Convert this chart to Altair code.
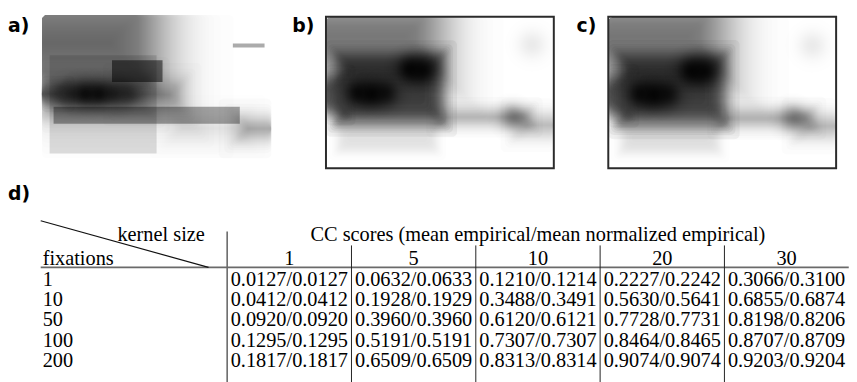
import math
from statistics import NormalDist
import altair as alt
import numpy as np
import pandas as pd

# ------------------------------------------------------------------ data (table d)
kernel_sizes = [1, 5, 10, 20, 30]
fixation_counts = [1, 10, 50, 100, 200]
cc_mean_empirical = [
    [0.0127, 0.0632, 0.1210, 0.2227, 0.3066],
    [0.0412, 0.1928, 0.3488, 0.5630, 0.6855],
    [0.0920, 0.3960, 0.6120, 0.7728, 0.8198],
    [0.1295, 0.5191, 0.7307, 0.8464, 0.8707],
    [0.1817, 0.6509, 0.8313, 0.9074, 0.9203],
]
cc_mean_normalized = [
    [0.0127, 0.0633, 0.1214, 0.2242, 0.3100],
    [0.0412, 0.1929, 0.3491, 0.5641, 0.6874],
    [0.0920, 0.3960, 0.6121, 0.7731, 0.8206],
    [0.1295, 0.5191, 0.7307, 0.8465, 0.8709],
    [0.1817, 0.6509, 0.8314, 0.9074, 0.9204],
]
header_kernel = "kernel size"
header_fix = "fixations"
header_cc = "CC scores (mean empirical/mean normalized empirical)"
panel_labels = ["a)", "b)", "c)", "d)"]

# ------------------------------------------------------------------ data (images, image pixel units)
# blurred regions: x0, y0, x1, y1, darkness, blur sigma
a_soft = [
    (-40, -15, 112, 72, 0.55, 32),
    (8, 64, 108, 98, 0.30, 10),
    (-20, 73, 22, 87, 0.50, 6),
    (88, 75, 135, 86, 0.35, 12),
    (205, 111, 245, 119, 0.42, 12),
    (135, 107, 200, 121, 0.14, 12),
]
# gaussian spots: cx, cy, radius, darkness
a_spots = [
    (30, 80, 28, 0.60), (44, 80, 28, 0.80), (58, 80, 28, 0.80), (72, 80, 28, 0.60),
    (86, 80, 26, 0.40),
]
# hard translucent boxes: x0, y0, x1, y1, opacity
a_boxes = [
    (8, 41, 116, 140, 0.13),
    (71, 46, 122, 68, 0.50),
    (12, 93, 200, 110, 0.35),
    (193, 29, 225, 33, 0.33),
]

b_soft = [
    (-40, -15, 115, 55, 0.52, 26),
    (14, 40, 116, 105, 0.72, 8),
    (-10, 62, 16, 96, 0.60, 7),
    (115, 95, 205, 108, 0.30, 7),
    (195, 101, 245, 118, 0.26, 9),
    (12, 107, 112, 136, 0.13, 5),
]
b_spots = [
    (85, 53, 28, 0.85), (98, 54, 28, 0.80),
    (32, 77, 28, 0.80), (46, 78, 28, 0.85), (60, 77, 28, 0.70),
    (188, 102, 26, 0.32),
    (208, 28, 30, 0.08),
]

c_soft = [
    (-40, -15, 115, 55, 0.52, 27),
    (14, 41, 115, 106, 0.72, 8.5),
    (-10, 63, 16, 97, 0.60, 7.5),
    (115, 96, 205, 109, 0.30, 7.5),
    (195, 102, 245, 119, 0.26, 9.5),
    (13, 108, 112, 137, 0.13, 5.5),
]
c_spots = [
    (84, 55, 29, 0.85), (97, 55, 29, 0.80),
    (32, 78, 29, 0.80), (46, 79, 29, 0.85), (60, 78, 29, 0.70),
    (186, 103, 27, 0.32),
    (206, 29, 30, 0.08),
]

# ------------------------------------------------------------------ layout (page px)
PANEL_A = dict(px=42, py=13, W=232, H=145)
PANEL_B = dict(px=329, py=15, W=230, H=153)
PANEL_C = dict(px=614, py=15, W=230, H=153)
M = 8  # page margin
ND = NormalDist()


def xs(p, clamp=False):
    return alt.Scale(domain=[0, p["W"]], range=[p["px"] - M, p["px"] - M + p["W"]],
                     clamp=clamp, zero=False, nice=False)


def ys(p, clamp=False):
    return alt.Scale(domain=[0, p["H"]], range=[p["py"] - M, p["py"] - M + p["H"]],
                     clamp=clamp, zero=False, nice=False)


def soft_layer(rows, p):
    # a blurred box drawn as a stack of equal, faint boxes whose insets follow a
    # normal distribution, giving a gaussian-like edge profile
    recs = []
    for x0, y0, x1, y1, dark, s in rows:
        k = max(8, int(math.ceil(3 * s)))
        o = 1 - (1 - dark) ** (1.0 / k)
        for j in range(k):
            d = s * ND.inv_cdf((j + 0.5) / k)
            if x0 + d < x1 - d and y0 + d < y1 - d:
                recs.append(dict(x=x0 + d, x2=x1 - d, y=y0 + d, y2=y1 - d, o=o))
    df = pd.DataFrame(recs)
    return alt.Chart(df).mark_rect(color="black", strokeWidth=0, cornerRadius=5).encode(
        x=alt.X("x:Q", scale=xs(p, True), axis=None),
        x2="x2:Q",
        y=alt.Y("y:Q", scale=ys(p, True), axis=None),
        y2="y2:Q",
        opacity=alt.Opacity("o:Q", scale=None, legend=None),
    )


stops = []
for t in np.linspace(0, 1, 15):
    a = math.exp(-4.5 * t * t) if t < 1 else 0.0
    stops.append({"offset": float(t), "color": f"rgba(0,0,0,{a:.4f})"})
GAUSS = {"gradient": "radial", "stops": stops,
         "x1": 0.5, "y1": 0.5, "r1": 0, "x2": 0.5, "y2": 0.5, "r2": 0.5}


def spot_layer(rows, p):
    df = pd.DataFrame(rows, columns=["cx", "cy", "r", "w"])
    df = df.assign(x=df.cx - df.r, x2=df.cx + df.r, y=df.cy - df.r, y2=df.cy + df.r)
    return alt.Chart(df).mark_rect(fill=GAUSS, strokeWidth=0).encode(
        x=alt.X("x:Q", scale=xs(p), axis=None),
        x2="x2:Q",
        y=alt.Y("y:Q", scale=ys(p), axis=None),
        y2="y2:Q",
        opacity=alt.Opacity("w:Q", scale=None, legend=None),
    )


def box_layer(rows, p):
    df = pd.DataFrame(rows, columns=["x", "y", "x2", "y2", "o"])
    return alt.Chart(df).mark_rect(color="black", strokeWidth=0).encode(
        x=alt.X("x:Q", scale=xs(p), axis=None),
        x2="x2:Q",
        y=alt.Y("y:Q", scale=ys(p), axis=None),
        y2="y2:Q",
        opacity=alt.Opacity("o:Q", scale=None, legend=None),
    )


def frame_layer(p):
    df = pd.DataFrame({"x": [0], "x2": [p["W"]], "y": [0], "y2": [p["H"]]})
    return alt.Chart(df).mark_rect(filled=False, stroke="#2b2b2b", strokeWidth=2).encode(
        x=alt.X("x:Q", scale=xs(p), axis=None),
        x2="x2:Q",
        y=alt.Y("y:Q", scale=ys(p), axis=None),
        y2="y2:Q",
    )


def label_layer(txt, x, y):
    return alt.Chart(pd.DataFrame({"t": [txt]})).mark_text(
        font="DejaVu Sans", fontWeight="bold", fontSize=19, align="left",
        baseline="middle", color="black").encode(
        x=alt.value(x), y=alt.value(y), text="t:N")


# ------------------------------------------------------------------ table
TX = dict(domain=[0, 6.5], range=[41 - M, 41 - M + 6.5 * 125.5])
TY = dict(domain=[0, 4], range=[286.5 - M, 368.5 - M])
SERIF = "Liberation Serif"
FS = 20.5


def tx():
    return alt.Scale(domain=TX["domain"], range=TX["range"], zero=False, nice=False)


def ty():
    return alt.Scale(domain=TY["domain"], range=TY["range"], zero=False, nice=False)


def text_layer(df, align="center", dx=0, dy=0):
    return alt.Chart(df).mark_text(font=SERIF, fontSize=FS, align=align, baseline="alphabetic",
                                   color="black", dx=dx, dy=dy).encode(
        x=alt.X("c:Q", scale=tx(), axis=None),
        y=alt.Y("r:Q", scale=ty(), axis=None),
        text="t:N",
    )


def rule_layer(df, color, width):
    return alt.Chart(df).mark_rule(color=color, strokeWidth=width).encode(
        x=alt.X("x:Q", scale=tx(), axis=None),
        x2="x2:Q",
        y=alt.Y("y:Q", scale=ty(), axis=None),
        y2="y2:Q",
    )


n_cols = len(kernel_sizes)
label_w = 1.5
cells = pd.DataFrame([
    dict(c=label_w + j + 0.5, r=i,
         t=f"{cc_mean_empirical[i][j]:.4f}/{cc_mean_normalized[i][j]:.4f}")
    for i in range(len(fixation_counts)) for j in range(n_cols)
])
col_heads = pd.DataFrame({"c": [label_w + j + 0.5 for j in range(n_cols)],
                          "r": [-1] * n_cols, "t": [str(k) for k in kernel_sizes]})
row_heads = pd.DataFrame({"c": [0] * len(fixation_counts),
                          "r": list(range(len(fixation_counts))),
                          "t": [str(f) for f in fixation_counts]})
fix_head = pd.DataFrame({"c": [0], "r": [-1], "t": [header_fix]})
ker_head = pd.DataFrame({"c": [1.32], "r": [-2], "t": [header_kernel]})
cc_head = pd.DataFrame({"c": [label_w + n_cols / 2], "r": [-2], "t": [header_cc]})

rule_y = -0.90
hrule = pd.DataFrame({"x": [0], "x2": [label_w + n_cols], "y": [rule_y], "y2": [rule_y]})
diag = pd.DataFrame({"x": [0], "x2": [1.35], "y": [-3.195], "y2": [rule_y]})
vmain = pd.DataFrame({"x": [label_w], "x2": [label_w], "y": [-2.66], "y2": [5.5]})
vsub = pd.DataFrame({"x": [label_w + j for j in range(1, n_cols)],
                     "x2": [label_w + j for j in range(1, n_cols)],
                     "y": [-1.98] * (n_cols - 1), "y2": [5.5] * (n_cols - 1)})

layers = [
    soft_layer(a_soft, PANEL_A), spot_layer(a_spots, PANEL_A), box_layer(a_boxes, PANEL_A),
    soft_layer(b_soft, PANEL_B), spot_layer(b_spots, PANEL_B), frame_layer(PANEL_B),
    soft_layer(c_soft, PANEL_C), spot_layer(c_spots, PANEL_C), frame_layer(PANEL_C),
    label_layer(panel_labels[0], 0, 16),
    label_layer(panel_labels[1], 287, 16),
    label_layer(panel_labels[2], 574, 16),
    label_layer(panel_labels[3], 0, 186),
    rule_layer(hrule, "#6a6a6a", 1.8),
    rule_layer(diag, "#111111", 1.2),
    rule_layer(vmain, "#6a6a6a", 1.6),
    rule_layer(vsub, "#222222", 1.0),
    text_layer(cells),
    text_layer(col_heads, dy=-0.5),
    text_layer(row_heads, align="left", dx=2),
    text_layer(fix_head, align="left", dx=2, dy=-0.5),
    text_layer(ker_head, align="right", dy=-4.5),
    text_layer(cc_head, dy=-4.5),
]

chart = alt.layer(*layers).resolve_scale(
    x="independent", y="independent", opacity="independent"
).properties(
    width=849, height=374,
    autosize=alt.AutoSizeParams(type="none"),
    padding=0,
).configure_view(stroke=None)

chart.save("out.html", embed_options={"renderer": "svg", "actions": False})
